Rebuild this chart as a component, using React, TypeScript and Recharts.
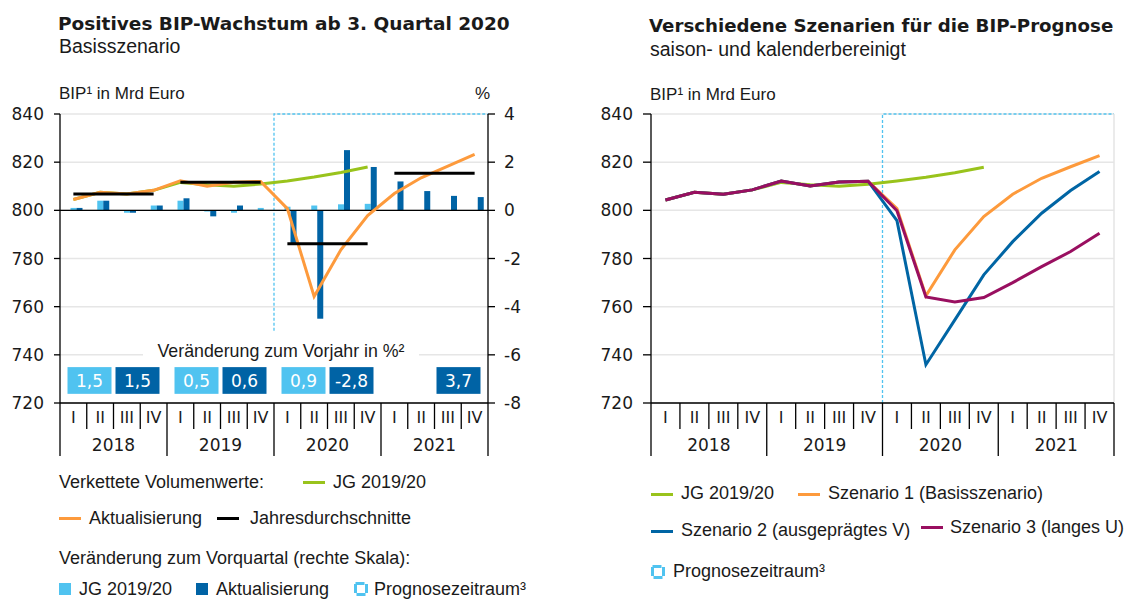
import React from 'react';
import {
  ComposedChart, Line, Bar, XAxis, YAxis, CartesianGrid, ReferenceLine, ReferenceArea,
} from 'recharts';

// ---------------- data ----------------
const years = ['2018', '2019', '2020', '2021'];
const quarterNames = ['I', 'II', 'III', 'IV'];
const periods = years.flatMap((y) => quarterNames.map((q) => `${y}-${q}`));

// Left chart: levels in Mrd Euro
const jgLevelLeft = [804.5, 807.5, 806.8, 808.3, 811.6, 810.6, 810.0, 810.9, 812.2, 813.8, 815.7, 818.0, null, null, null, null];
const aktLevel = [804.5, 807.5, 806.8, 808.3, 812.3, 810.0, 811.7, 812.0, 800.7, 764.2, 783.6, 797.8, 807.0, 813.5, 818.4, 823.2];
const annualAvg = [806.8, 811.7, 786.1, 815.4];
// Left chart: change vs. previous quarter in %
const qoqJG = [0.1, 0.4, -0.1, 0.2, 0.4, -0.05, -0.1, 0.1, 0.15, 0.2, 0.25, 0.27, null, null, null, null];
const qoqAkt = [0.1, 0.4, -0.1, 0.2, 0.5, -0.25, 0.2, 0.0, -1.4, -4.5, 2.5, 1.8, 1.2, 0.8, 0.6, 0.55];
// change vs. previous year in % (labels)
const yoyJG = ['1,5', '0,5', '0,9', null];
const yoyAkt = ['1,5', '0,6', '-2,8', '3,7'];

// Right chart: scenarios
const jgLevelRight = [804.3, 807.5, 806.7, 808.5, 811.6, 810.6, 810.0, 810.8, 812.2, 813.7, 815.6, 817.9, null, null, null, null];
const scen1 = [804.3, 807.5, 806.7, 808.5, 812.2, 810.1, 811.8, 812.1, 800.7, 764.5, 783.6, 797.4, 806.7, 813.3, 818.1, 822.7];
const scen2 = [804.3, 807.5, 806.7, 808.5, 812.2, 810.1, 811.8, 812.1, 795.7, 735.9, 754.5, 773.2, 787.0, 798.8, 808.2, 816.1];
const scen3 = [804.3, 807.5, 806.7, 808.5, 812.2, 810.1, 811.8, 812.1, 799.8, 764.0, 761.9, 763.8, 770.0, 776.6, 782.9, 790.5];

const levelTicks = [720, 740, 760, 780, 800, 820, 840];
const pctTicks = [-8, -6, -4, -2, 0, 2, 4];

// ---------------- styling ----------------
const LIB = '"Liberation Sans", Arial, sans-serif';
const DJ = '"DejaVu Sans", sans-serif';
const TXT = '#1a1a1a';
const C_LIGHT = '#50c3f0';
const C_DARK = '#0063a5';
const C_ORANGE = '#fd9a3c';
const C_GREEN = '#99c31c';
const C_PURPLE = '#990f60';
const C_BLUE = '#0065a4';
const C_GRID = '#e6e6e6';
const LEG = 18;

const leftData = periods.map((p, i) => {
  const row: any = { p, jg: jgLevelLeft[i], akt: aktLevel[i], qJG: qoqJG[i], qAkt: qoqAkt[i] };
  years.forEach((_, k) => {
    row[`avg${k}`] = Math.floor(i / 4) === k ? annualAvg[k] : null;
  });
  return row;
});
const rightData = periods.map((p, i) => ({ p, jg: jgLevelRight[i], s1: scen1[i], s2: scen2[i], s3: scen3[i] }));

// layout constants
const L = { w: 540, h: 470, top: 114, left: 10, right: 12, yw: 50, ryw: 40, xh: 60 };
const R = { w: 527, h: 470, top: 114, left: 1, right: 13, yw: 50, xh: 60 };
const L_BW = (L.w - L.left - L.right - L.yw - L.ryw) / periods.length;
const R_BW = (R.w - R.left - R.right - R.yw) / periods.length;

function T({ x, b, size = LEG, bold = false, family = LIB, color = TXT, children }: any) {
  const asc = family === DJ ? 0.928 - 0.082 : 0.905 - 0.0585;
  return (
    <div style={{ position: 'absolute', left: x, top: b - asc * size, fontFamily: family, fontSize: size,
      fontWeight: bold ? 700 : 400, lineHeight: 1, whiteSpace: 'nowrap', color }}>{children}</div>
  );
}

const LegLine = ({ x, y, color }: any) => (
  <div style={{ position: 'absolute', left: x, top: y - 1.5, width: 22, height: 3, background: color }} />
);
const LegSq = ({ x, y, color }: any) => (
  <div style={{ position: 'absolute', left: x, top: y, width: 12, height: 12, background: color }} />
);
const LegProg = ({ x, y }: any) => (
  <svg style={{ position: 'absolute', left: x, top: y }} width={15} height={15}>
    <rect x={1.5} y={1.5} width={11} height={11} fill="none" stroke={C_LIGHT} strokeWidth={3} strokeDasharray="9 2.5" />
  </svg>
);

const makeXTick = (bw: number) => (props: any) => {
  const { x, y, payload } = props;
  const i = periods.indexOf(payload.value);
  const [yr, q] = String(payload.value).split('-');
  const left = x - bw / 2;
  const yearStart = i % 4 === 0;
  return (
    <g>
      <line x1={left} x2={left} y1={y} y2={y + (yearStart ? 53 : 26)} stroke="#000" strokeWidth={1.3} />
      {i === periods.length - 1 && (
        <line x1={x + bw / 2} x2={x + bw / 2} y1={y} y2={y + 53} stroke="#000" strokeWidth={1.3} />
      )}
      <text x={x} y={y + 20} textAnchor="middle" fontFamily={DJ} fontSize={16} fill={TXT}>{q}</text>
      {i % 4 === 1 && (
        <text x={x + bw / 2} y={y + 47.5} textAnchor="middle" fontFamily={DJ} fontSize={17} fill={TXT}>{yr}</text>
      )}
    </g>
  );
};

const shiftedBar = (fill: string) => (p: any) => {
  if (p == null || p.height == null || p.width == null) return <g />;
  const h = Number(p.height);
  const y0 = h < 0 ? p.y + h : p.y;
  return <rect x={p.x + 3.5} y={y0} width={p.width} height={Math.abs(h)} fill={fill} />;
};

const yoyBox = (fill: string, label: string, insetL: number, insetR: number) => (p: any) => {
  const { x, y, width, height } = p;
  const bx = x + insetL;
  const bw = width - insetL - insetR;
  return (
    <g>
      <rect x={bx} y={y} width={bw} height={height} fill={fill} />
      <text x={bx + bw / 2} y={y + height / 2} dy="0.36em" textAnchor="middle" fontFamily={DJ} fontSize={17} fill="#fff">{label}</text>
    </g>
  );
};

const progFrame = (rightEdge: boolean) => (p: any) => {
  const { x, y, width, height } = p;
  return (
    <g>
      <path d={`M${x},${y + height} L${x},${y} L${x + width},${y}`} fill="none" stroke={C_LIGHT} strokeWidth={1.3} strokeDasharray="3 2" />
      {rightEdge && <line x1={x + width} x2={x + width} y1={y} y2={y + height} stroke="#e4e4e4" strokeWidth={1.5} />}
    </g>
  );
};

function LeftChart() {
  return (
    <ComposedChart width={L.w} height={L.h} data={leftData}
      margin={{ top: L.top, right: L.right, bottom: L.h - L.top - 289 - L.xh, left: L.left }}
      barGap={0} barSize={6}>
      <CartesianGrid yAxisId="lvl" vertical={false} stroke={C_GRID} strokeWidth={1.5} />
      <XAxis dataKey="p" interval={0} height={L.xh} tickLine={false} tickSize={0} tickMargin={0} scale="band"
        axisLine={{ stroke: '#000', strokeWidth: 1.3 }} tick={makeXTick(L_BW)} />
      <YAxis yAxisId="lvl" domain={[720, 840]} ticks={levelTicks} width={L.yw} interval={0}
        axisLine={{ stroke: '#000', strokeWidth: 1.3 }} tickLine={{ stroke: '#000', strokeWidth: 1.3 }}
        tickSize={6} tickMargin={10} tick={{ fontFamily: DJ, fontSize: 17, fill: TXT }} />
      <YAxis yAxisId="pct" orientation="right" domain={[-8, 4]} ticks={pctTicks} width={L.ryw} interval={0}
        axisLine={{ stroke: '#000', strokeWidth: 1.3 }} tickLine={{ stroke: '#000', strokeWidth: 1.3 }}
        tickSize={7} tickMargin={9} tick={{ fontFamily: DJ, fontSize: 17, fill: TXT, textAnchor: 'start' }} />
      <Bar yAxisId="pct" dataKey="qJG" fill={C_LIGHT} isAnimationActive={false} shape={shiftedBar(C_LIGHT)} />
      <Bar yAxisId="pct" dataKey="qAkt" fill={C_DARK} isAnimationActive={false} shape={shiftedBar(C_DARK)} />
      <ReferenceLine yAxisId="pct" y={0} stroke="#000" strokeWidth={1.3} />
      <ReferenceArea yAxisId="pct" x1="2020-I" x2="2021-IV" y1={-5} y2={4} shape={progFrame(false)} />
      {years.map((y, k) => (
        yoyJG[k] ? (
          <ReferenceArea key={`j${y}`} yAxisId="pct" x1={periods[4 * k]} x2={periods[4 * k + 1]} y1={-6.51} y2={-7.62}
            shape={yoyBox(C_LIGHT, yoyJG[k] as string, 7.5, 2)} />
        ) : null
      ))}
      {years.map((y, k) => (
        yoyAkt[k] ? (
          <ReferenceArea key={`a${y}`} yAxisId="pct" x1={periods[4 * k + 2]} x2={periods[4 * k + 3]} y1={-6.51} y2={-7.62}
            shape={yoyBox(C_DARK, yoyAkt[k] as string, 2, 7.5)} />
        ) : null
      ))}
      <Line yAxisId="lvl" dataKey="jg" stroke={C_GREEN} strokeWidth={3} dot={false} activeDot={false} isAnimationActive={false} />
      <Line yAxisId="lvl" dataKey="akt" stroke={C_ORANGE} strokeWidth={3} dot={false} activeDot={false} isAnimationActive={false} />
      {years.map((y, k) => (
        <Line key={y} yAxisId="lvl" dataKey={`avg${k}`} stroke="#000" strokeWidth={3} dot={false} activeDot={false} isAnimationActive={false} />
      ))}
    </ComposedChart>
  );
}

function RightChart() {
  return (
    <ComposedChart width={R.w} height={R.h} data={rightData}
      margin={{ top: R.top, right: R.right, bottom: R.h - R.top - 289 - R.xh, left: R.left }}>
      <CartesianGrid yAxisId="lvl" vertical={false} stroke={C_GRID} strokeWidth={1.5} />
      <XAxis dataKey="p" interval={0} height={R.xh} tickLine={false} tickSize={0} tickMargin={0} scale="band"
        axisLine={{ stroke: '#000', strokeWidth: 1.3 }} tick={makeXTick(R_BW)} />
      <YAxis yAxisId="lvl" domain={[720, 840]} ticks={levelTicks} width={R.yw} interval={0}
        axisLine={{ stroke: '#000', strokeWidth: 1.3 }} tickLine={{ stroke: '#000', strokeWidth: 1.3 }}
        tickSize={8} tickMargin={10} tick={{ fontFamily: DJ, fontSize: 17, fill: TXT }} />
      <ReferenceArea yAxisId="lvl" x1="2020-I" x2="2021-IV" y1={720} y2={840} shape={progFrame(true)} />
      <Line yAxisId="lvl" dataKey="jg" stroke={C_GREEN} strokeWidth={3} dot={false} activeDot={false} isAnimationActive={false} />
      <Line yAxisId="lvl" dataKey="s1" stroke={C_ORANGE} strokeWidth={3} dot={false} activeDot={false} isAnimationActive={false} />
      <Line yAxisId="lvl" dataKey="s2" stroke={C_BLUE} strokeWidth={3} dot={false} activeDot={false} isAnimationActive={false} />
      <Line yAxisId="lvl" dataKey="s3" stroke={C_PURPLE} strokeWidth={3} dot={false} activeDot={false} isAnimationActive={false} />
    </ComposedChart>
  );
}

export default function App() {
  return (
    <div style={{ position: 'absolute', left: 0, top: 0, width: 1127, height: 599, overflow: 'hidden', background: '#fff' }}>
      <div style={{ position: 'absolute', left: 0, top: 0 }}><LeftChart /></div>
      <div style={{ position: 'absolute', left: 600, top: 0 }}><RightChart /></div>

      {/* Left headings */}
      <T x={58} b={31} size={18.5} bold family={DJ}>Positives BIP-Wachstum ab 3. Quartal 2020</T>
      <T x={59} b={54} size={19.5}>Basisszenario</T>
      <T x={59} b={99} size={17}>BIP¹ in Mrd Euro</T>
      <T x={475} b={99} size={17}>%</T>
      <div style={{ position: 'absolute', left: 143, top: 341, width: 276, height: 20, background: '#fff',
        fontFamily: LIB, fontSize: 17.8, lineHeight: '20px', textAlign: 'center', color: TXT, whiteSpace: 'nowrap' }}>
        Veränderung zum Vorjahr in %²
      </div>

      {/* Right headings */}
      <T x={649} b={32} size={18.2} bold family={DJ}>Verschiedene Szenarien für die BIP-Prognose</T>
      <T x={650} b={57} size={19.5}>saison- und kalenderbereinigt</T>
      <T x={650} b={100} size={17}>BIP¹ in Mrd Euro</T>

      {/* Left legend */}
      <T x={59} b={488}>Verkettete Volumenwerte:</T>
      <LegLine x={303} y={482.5} color={C_GREEN} />
      <T x={333} b={488}>JG 2019/20</T>
      <LegLine x={59} y={518.5} color={C_ORANGE} />
      <T x={89} b={524}>Aktualisierung</T>
      <LegLine x={217} y={518.5} color="#000" />
      <T x={250} b={524}>Jahresdurchschnitte</T>
      <T x={59} b={564}>Veränderung zum Vorquartal (rechte Skala):</T>
      <LegSq x={59} y={583} color={C_LIGHT} />
      <T x={79} b={595}>JG 2019/20</T>
      <LegSq x={196} y={583} color={C_DARK} />
      <T x={216} b={595}>Aktualisierung</T>
      <LegProg x={354} y={582} />
      <T x={374} b={595}>Prognosezeitraum³</T>

      {/* Right legend */}
      <LegLine x={651} y={494.5} color={C_GREEN} />
      <T x={681} b={499.5}>JG 2019/20</T>
      <LegLine x={798} y={494.5} color={C_ORANGE} />
      <T x={828} b={499.5}>Szenario 1 (Basisszenario)</T>
      <LegLine x={651} y={531} color={C_BLUE} />
      <T x={681} b={536.5}>Szenario 2 (ausgeprägtes V)</T>
      <LegLine x={921} y={527.5} color={C_PURPLE} />
      <T x={950} b={533.5}>Szenario 3 (langes U)</T>
      <LegProg x={651} y={565} />
      <T x={673} b={577}>Prognosezeitraum³</T>
    </div>
  );
}
